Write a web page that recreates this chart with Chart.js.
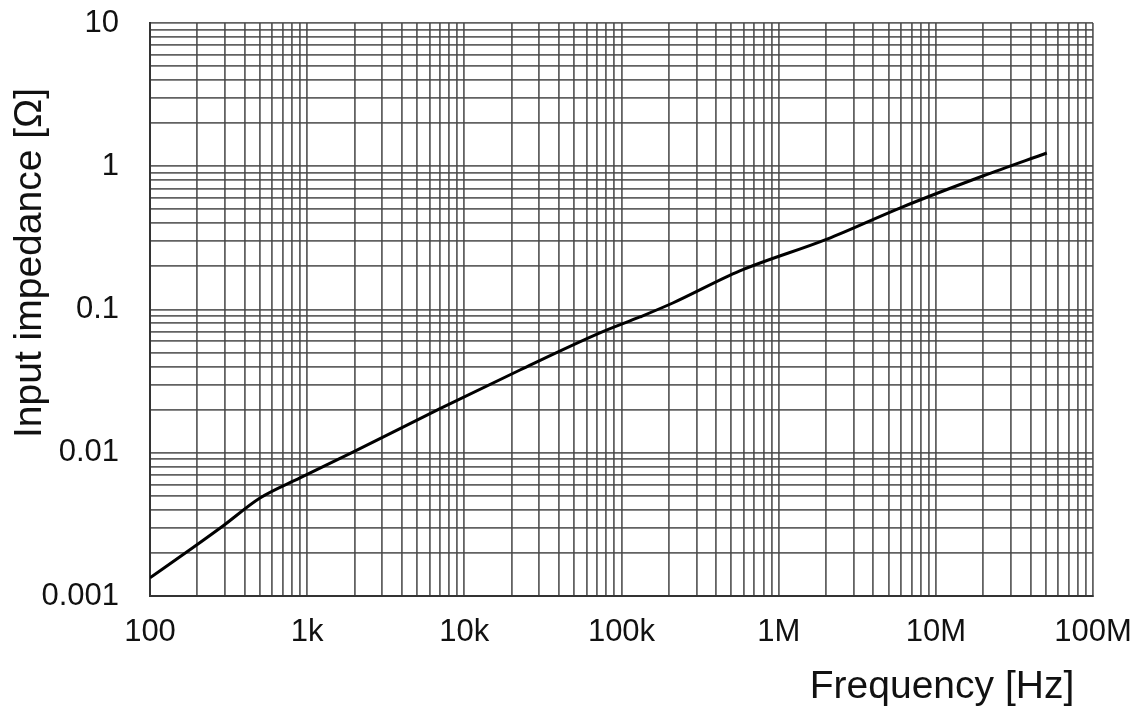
<!DOCTYPE html>
<html>
<head>
<meta charset="utf-8">
<script src="https://cdn.jsdelivr.net/npm/chart.js@4/dist/chart.umd.min.js"></script>
<style>
html,body{margin:0;padding:0;background:#fff;}
#wrap{width:1141px;height:715px;position:relative;}
</style>
</head>
<body>
<div id="wrap"><canvas id="c" width="1141" height="715"></canvas></div>
<script>
const frequencyHz = [100, 188, 291, 501, 900, 1954, 7000, 22600, 72900, 131000, 212000, 566000, 2030000, 5900000, 19900000, 50800000];
const impedanceOhm = [0.00134, 0.00218, 0.00308, 0.00483, 0.00667, 0.0101, 0.0203, 0.0378, 0.0686, 0.0887, 0.111, 0.186, 0.31, 0.511, 0.855, 1.237];
const xTickLabels = {100:'100', 1000:'1k', 10000:'10k', 100000:'100k', 1000000:'1M', 10000000:'10M', 100000000:'100M'};
const yTickLabels = {0.001:'0.001', 0.01:'0.01', 0.1:'0.1', 1:'1', 10:'10'};
const xTitle = 'Frequency [Hz]';
const yTitle = 'Input impedance [Ω]';

const FONT = '"Liberation Sans", Arial, sans-serif';
const GRID = 'rgba(70,70,70,0.85)';

function logTicks(min, max) {
  const out = [];
  for (let e = Math.round(Math.log10(min)); e < Math.round(Math.log10(max)); e++) {
    for (let m = 1; m <= 9; m++) out.push({value: +(m * Math.pow(10, e)).toPrecision(6)});
  }
  out.push({value: max});
  return out;
}
function labelFor(map, v) {
  for (const k in map) { if (Math.abs(Math.log10(+k) - Math.log10(v)) < 1e-6) return map[k]; }
  return '';
}

const titlesPlugin = {
  id: 'titles',
  afterDraw(chart) {
    const ctx = chart.ctx;
    ctx.save();
    ctx.fillStyle = '#111';
    ctx.font = '39px ' + FONT;
    ctx.textAlign = 'center';
    ctx.textBaseline = 'middle';
    ctx.fillText(xTitle, 942, 687);
    ctx.translate(30, 263);
    ctx.rotate(-Math.PI / 2);
    ctx.fillText(yTitle, 0, 0);
    ctx.restore();
  }
};

new Chart(document.getElementById('c'), {
  type: 'line',
  data: {
    datasets: [{
      data: frequencyHz.map((f, i) => ({x: f, y: impedanceOhm[i]})),
      borderColor: '#000',
      borderWidth: 3,
      pointRadius: 0,
      cubicInterpolationMode: 'monotone',
      fill: false
    }]
  },
  options: {
    responsive: false,
    animation: false,
    layout: {padding: {left: 0, right: 48, top: 23, bottom: 0}},
    plugins: {legend: {display: false}, tooltip: {enabled: false}},
    scales: {
      x: {
        type: 'logarithmic',
        min: 100, max: 100000000,
        afterBuildTicks(s) { s.ticks = logTicks(100, 100000000); },
        afterFit(s) { s.height = 119; s.paddingLeft = 0; s.paddingRight = 0; },
        grid: {color: GRID, lineWidth: 1.8, drawTicks: false},
        border: {color: '#333', width: 2},
        ticks: {
          autoSkip: false, maxRotation: 0, padding: 18,
          color: '#111', font: {family: FONT, size: 31},
          callback: (v) => labelFor(xTickLabels, v)
        }
      },
      y: {
        type: 'logarithmic',
        min: 0.001, max: 10,
        afterBuildTicks(s) { s.ticks = logTicks(0.001, 10); },
        afterFit(s) { s.width = 150; s.paddingTop = 0; s.paddingBottom = 0; },
        grid: {color: GRID, lineWidth: 1.8, drawTicks: false},
        border: {color: '#333', width: 2},
        ticks: {
          autoSkip: false, padding: 31,
          color: '#111', font: {family: FONT, size: 31},
          callback: (v) => labelFor(yTickLabels, v)
        }
      }
    }
  },
  plugins: [titlesPlugin]
});
</script>
</body>
</html>
